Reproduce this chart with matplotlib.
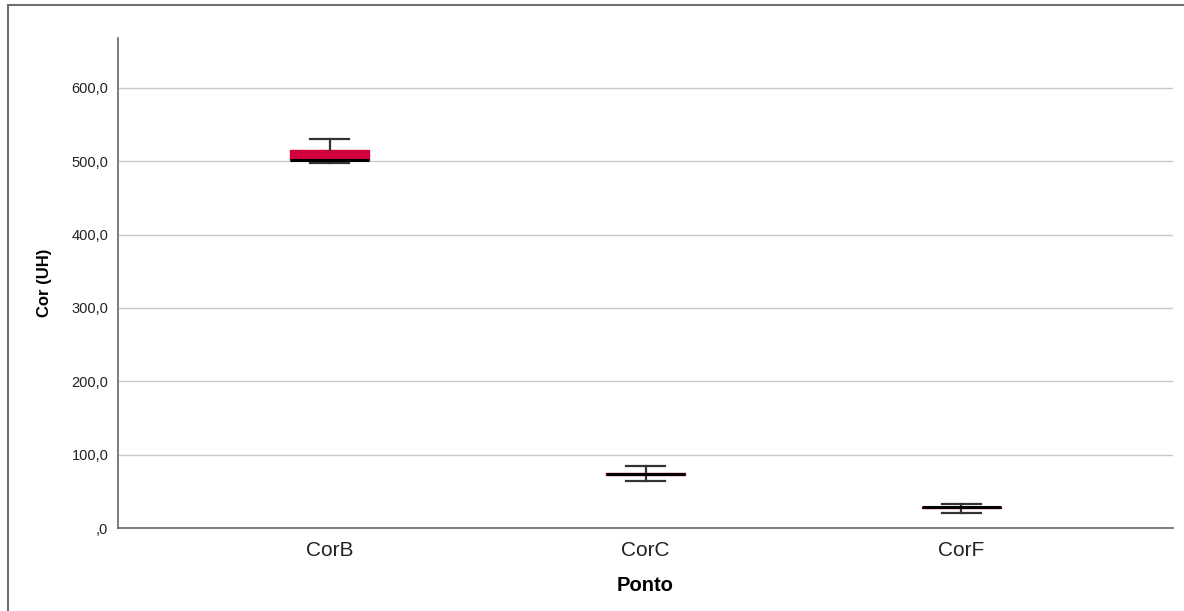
import matplotlib.pyplot as plt
from matplotlib.patches import Rectangle
from matplotlib.ticker import FuncFormatter

plt.rcParams["font.family"] = ["Liberation Sans", "DejaVu Sans"]

# box-plot summaries per sampling point
pontos = ["CorB", "CorC", "CorF"]
minimo = [498.0, 64.5, 20.0]
q1 = [501.5, 72.0, 27.0]
mediana = [502.0, 73.0, 28.0]
q3 = [515.5, 74.5, 29.0]
maximo = [530.0, 85.0, 32.3]
yticks = [0, 100, 200, 300, 400, 500, 600]

stats = []
for i, nome in enumerate(pontos):
    stats.append({
        "label": nome,
        "whislo": minimo[i],
        "q1": q1[i],
        "med": mediana[i],
        "q3": q3[i],
        "whishi": maximo[i],
        "fliers": [],
    })

fig = plt.figure(figsize=(11.84, 6.11), dpi=100)
ax = fig.add_axes([0.0997, 0.1358, 0.891, 0.802])

# outer frame around the chart
fig.patches.append(Rectangle((8 / 1184, -0.01), 1.0, 1 - 5 / 611 + 0.01,
                             transform=fig.transFigure, fill=False,
                             edgecolor="#707070", linewidth=1.5))

ax.bxp(stats, positions=range(len(pontos)), widths=0.25, patch_artist=True,
       boxprops=dict(facecolor="#D2003C", edgecolor="#D2003C", linewidth=1),
       medianprops=dict(color="black", linewidth=2.2),
       whiskerprops=dict(color="#333333", linewidth=1.6),
       capprops=dict(color="#333333", linewidth=1.6),
       capwidths=0.125)

ax.set_xlim(-0.67, 2.67)
ax.set_ylim(0, 668)
ax.set_yticks(yticks)
ax.yaxis.set_major_formatter(FuncFormatter(
    lambda v, p: ",0" if v == 0 else f"{v:.1f}".replace(".", ",")))
ax.grid(axis="y", color="#c8c8c8", linewidth=1)
ax.set_axisbelow(True)
ax.tick_params(axis="y", length=0, labelsize=10.5, pad=7, colors="#222222")
ax.tick_params(axis="x", length=0, labelsize=15, pad=9, colors="#222222")

for s in ["top", "right"]:
    ax.spines[s].set_visible(False)
for s in ["left", "bottom"]:
    ax.spines[s].set_color("#666666")
    ax.spines[s].set_linewidth(1.2)

ax.set_ylabel("Cor (UH)", fontsize=12, fontweight="bold", labelpad=14)
ax.set_xlabel("Ponto", fontsize=14.5, fontweight="bold", labelpad=12)

fig.savefig("out.png", dpi=100)
